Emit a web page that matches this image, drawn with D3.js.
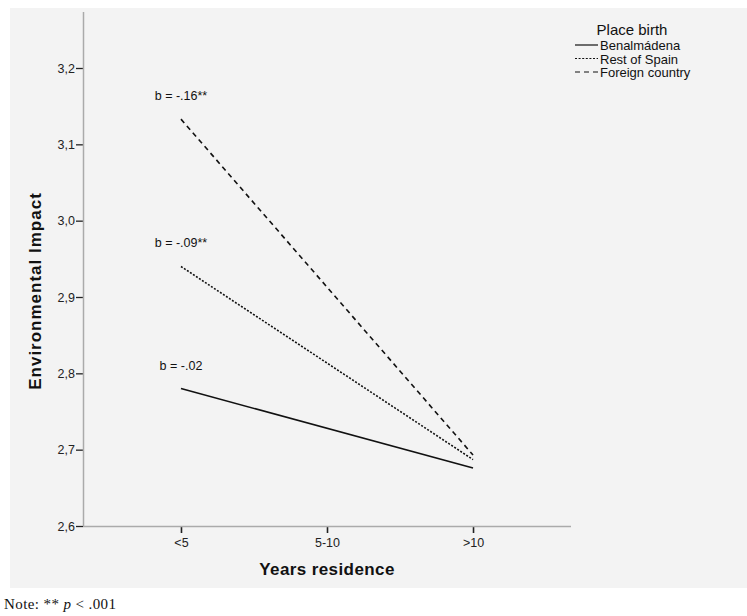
<!DOCTYPE html>
<html lang="en">
<head>
    <meta charset="UTF-8">
    <title>Environmental Impact by Years residence</title>
    <script src="https://cdnjs.cloudflare.com/ajax/libs/d3/7.8.5/d3.min.js"></script>
    <style>
        body {
            margin: 0;
            background: #ffffff;
            font-family: Arial, 'Liberation Sans', sans-serif;
        }
        .axis text {
            font-size: 12.5px;
            fill: #222;
        }
        .axis-label {
            font-weight: bold;
            fill: #111;
        }
        .slope-label {
            font-size: 12.5px;
            fill: #111;
        }
        .legend text {
            font-size: 13px;
            fill: #111;
        }
        .note {
            font-family: 'Liberation Serif', 'DejaVu Serif', serif;
            font-size: 15px;
            letter-spacing: 0.4px;
            fill: #111;
        }
    </style>
</head>
<body>
    <div id="chart"></div>

    <script>
        // Categories on x axis
        const categories = ["<5", "5-10", ">10"];
        const yTicks = [2.6, 2.7, 2.8, 2.9, 3.0, 3.1, 3.2];

        // Series: estimated means at the first and last category
        const seriesNames = ["Benalmádena", "Rest of Spain", "Foreign country"];
        const seriesX = ["<5", ">10"];
        const benalmadena = [2.780, 2.676];
        const restOfSpain = [2.940, 2.687];
        const foreignCountry = [3.133, 2.693];
        const slopeLabels = ["b = -.02", "b = -.09**", "b = -.16**"];

        const seriesValues = [benalmadena, restOfSpain, foreignCountry];
        const dashes = [null, "2,1.6", "5,4"];

        const W = 747, H = 616;
        const svg = d3.select("#chart")
            .append("svg")
            .attr("width", W)
            .attr("height", H);

        // grey panel like the SPSS output
        svg.append("rect")
            .attr("x", 10)
            .attr("y", 8)
            .attr("width", W - 10)
            .attr("height", 580)
            .attr("fill", "#f3f3f3");

        const x = d3.scalePoint()
            .domain(categories)
            .range([83, 571])
            .padding(0.671);

        const y = d3.scaleLinear()
            .domain([2.6, 3.2])
            .range([526, 68]);

        // y axis
        const yAxis = svg.append("g")
            .attr("class", "axis")
            .attr("transform", "translate(83,0)")
            .call(d3.axisLeft(y).tickValues(yTicks).tickSize(7).tickPadding(1)
                .tickFormat(d => d3.format(".1f")(d).replace(".", ",")));
        yAxis.select(".domain").remove();
        yAxis.selectAll(".tick line").attr("stroke", "#222").attr("stroke-width", 1.3);
        svg.append("line")
            .attr("x1", 83.5).attr("x2", 83.5)
            .attr("y1", 12).attr("y2", 526)
            .attr("stroke", "#aaa").attr("stroke-width", 1.5);

        // x axis
        const xAxis = svg.append("g")
            .attr("class", "axis")
            .attr("transform", "translate(0,526)")
            .call(d3.axisBottom(x).tickSize(7).tickPadding(5));
        xAxis.select(".domain").remove();
        xAxis.selectAll(".tick line").attr("stroke", "#222").attr("stroke-width", 1.6);
        svg.append("line")
            .attr("x1", 83).attr("x2", 571)
            .attr("y1", 526.5).attr("y2", 526.5)
            .attr("stroke", "#aaa").attr("stroke-width", 1.5);

        // axis titles
        svg.append("text")
            .attr("class", "axis-label")
            .attr("transform", "translate(41,291) rotate(-90)")
            .attr("text-anchor", "middle")
            .style("font-size", "17px")
            .style("letter-spacing", "1px")
            .text("Environmental Impact");

        svg.append("text")
            .attr("class", "axis-label")
            .attr("x", x("5-10"))
            .attr("y", 575)
            .attr("text-anchor", "middle")
            .style("font-size", "17px")
            .style("letter-spacing", "0.4px")
            .text("Years residence");

        // lines
        const line = d3.line()
            .x((d, i) => x(seriesX[i]))
            .y(d => y(d));

        seriesValues.forEach((vals, i) => {
            svg.append("path")
                .datum(vals)
                .attr("d", line)
                .attr("fill", "none")
                .attr("stroke", "#111")
                .attr("stroke-width", 1.6)
                .attr("stroke-dasharray", dashes[i]);

            svg.append("text")
                .attr("class", "slope-label")
                .attr("x", x(seriesX[0]))
                .attr("y", y(vals[0]) - 19)
                .attr("text-anchor", "middle")
                .text(slopeLabels[i]);
        });

        // legend
        const legend = svg.append("g").attr("class", "legend");
        legend.append("text")
            .attr("x", 632)
            .attr("y", 35)
            .attr("text-anchor", "middle")
            .style("font-size", "15px")
            .text("Place birth");

        seriesNames.forEach((name, i) => {
            const ly = 50 + i * 13.5;
            legend.append("line")
                .attr("x1", 575).attr("x2", 598)
                .attr("y1", ly - 5).attr("y2", ly - 5)
                .attr("stroke", "#111")
                .attr("stroke-width", 1.2)
                .attr("stroke-dasharray", dashes[i]);
            legend.append("text")
                .attr("x", 600)
                .attr("y", ly)
                .text(name);
        });

        // note
        const note = svg.append("text")
            .attr("class", "note")
            .attr("x", 4)
            .attr("y", 609);
        note.append("tspan").text("Note: ** ");
        note.append("tspan").style("font-style", "italic").text("p");
        note.append("tspan").text(" < .001");
    </script>
</body>
</html>
